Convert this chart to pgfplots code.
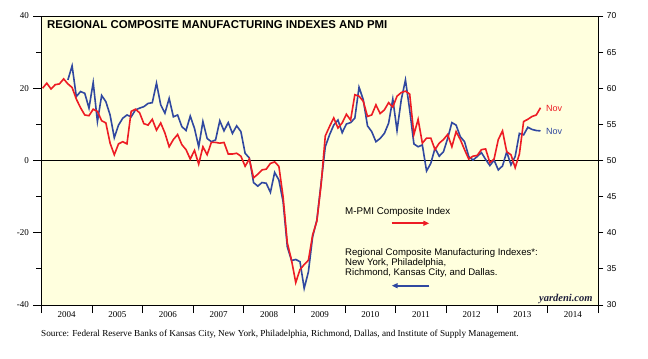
\documentclass[border=0pt]{standalone}
\usepackage{fontspec}
\setmainfont{Liberation Serif}
\newfontfamily\arial{Liberation Sans}
\usepackage{pgfplots}
\pgfplotsset{compat=1.18}
\usepackage{pgfplotstable}
\usetikzlibrary{arrows.meta}

\definecolor{pmired}{RGB}{237,28,36}
\definecolor{regblue}{RGB}{48,72,160}
\definecolor{bgyellow}{RGB}{255,255,222}

% M-PMI composite (right axis), months since Jan 2004
\pgfplotstableread{
m v
0 60.0
1 60.7
2 59.9
3 60.5
4 60.6
5 61.3
6 60.6
7 60.1
8 58.5
9 57.3
10 56.3
11 56.2
12 57.1
13 56.8
14 55.5
15 55.2
16 52.4
17 50.8
18 52.3
19 52.6
20 52.3
21 56.8
22 57.1
23 56.6
24 55.1
25 54.9
26 55.7
27 54.2
28 55.2
29 53.8
30 51.9
31 52.9
32 53.6
33 52.2
34 51.5
35 50.2
36 51.4
37 49.5
38 51.9
39 50.8
40 52.5
41 52.5
42 52.4
43 52.5
44 50.9
45 50.9
46 51.0
47 50.6
48 49.2
49 50.2
50 47.6
51 48.1
52 48.7
53 48.8
54 49.6
55 49.8
56 49.2
57 45.0
58 38.6
59 36.2
60 33.1
61 34.9
62 35.6
63 36.2
64 39.7
65 41.6
66 46.6
67 53.4
68 54.7
69 55.9
70 54.5
71 55.2
72 56.4
73 55.6
74 59.1
75 58.9
76 58.2
77 56.1
78 56.3
79 57.7
80 56.5
81 57.0
82 58.0
83 57.4
84 58.9
85 59.4
86 59.6
87 59.2
88 53.6
89 55.7
90 52.4
91 53.1
92 53.1
93 51.5
94 52.4
95 52.9
96 53.6
97 51.9
98 54.0
99 52.9
100 51.5
101 50.2
102 50.6
103 50.7
104 51.5
105 51.6
106 49.7
107 50.2
108 52.9
109 54.1
110 51.2
111 50.8
112 49.0
113 50.9
114 55.4
115 55.7
116 56.1
117 56.3
118 57.3
}\pmidata

% Regional composite manufacturing indexes (left axis)
\pgfplotstableread{
m v
6 22.3
7 26.2
8 17.7
9 19.1
10 18.6
11 14.5
12 21.6
13 10.8
14 18.0
15 16.3
16 12.6
17 6.3
18 9.8
19 11.7
20 12.6
21 12.1
22 14.0
23 14.5
24 14.9
25 15.8
26 16.0
27 21.4
28 15.4
29 13.1
30 17.2
31 12.1
32 12.6
33 9.4
34 8.3
35 12.3
36 8.9
37 3.8
38 10.8
39 6.1
40 5.2
41 5.7
42 11.0
43 8.2
44 10.5
45 7.5
46 9.6
47 8.0
48 2.0
49 0.7
50 -6.1
51 -7.1
52 -6.1
53 -6.3
54 -8.8
55 -3.3
56 -5.4
57 -11.4
58 -23.9
59 -27.7
60 -27.4
61 -28.0
62 -35.4
63 -30.8
64 -21.1
65 -16.5
66 -6.3
67 3.8
68 7.1
69 9.8
70 11.2
71 7.7
72 10.1
73 10.5
74 11.7
75 20.3
76 16.8
77 9.6
78 8.0
79 5.2
80 6.1
81 7.5
82 10.3
83 17.0
84 8.3
85 16.8
86 22.3
87 14.0
88 4.6
89 3.8
90 4.3
91 -2.9
92 -0.8
93 3.4
94 1.2
95 2.4
96 6.1
97 10.5
98 9.8
99 6.6
100 5.2
101 1.1
102 0.1
103 1.1
104 2.2
105 0.3
106 -1.4
107 0.1
108 -2.6
109 -1.5
110 2.4
111 -1.2
112 1.1
113 7.5
114 7.1
115 9.2
116 8.6
117 8.3
118 8.2
}\regdata

\begin{document}
\begin{tikzpicture}
\useasboundingbox (-41.3bp,-54bp) rectangle (606.7bp,305bp);
\begin{axis}[
  at={(0,0)}, anchor=south west,
  scale only axis, width=557bp, height=289bp,
  xmin=-0.3, xmax=131.7, ymin=-40, ymax=40,
  axis background/.style={fill=bgyellow},
  axis line style={line width=0.8bp},
  tick style={black, line width=0.8bp},
  tick align=outside,
  xtick pos=bottom, ytick pos=left,
  xtick={-0.3,11.7,23.7,35.7,47.7,59.7,71.7,83.7,95.7,107.7,119.7,131.7},
  xticklabels={},
  extra x ticks={5.7,17.7,29.7,41.7,53.7,65.7,77.7,89.7,101.7,113.7,125.7},
  extra x tick labels={2004,2005,2006,2007,2008,2009,2010,2011,2012,2013,2014},
  extra x tick style={major tick length=0pt, tick label style={yshift=-3bp}},
  ytick={-40,-20,0,20,40},
  minor ytick={-30,-10,10,30},
  major tick length=8bp, minor tick length=5bp,
  /pgf/number format/assume math mode=true,
  tick label style={font=\fontsize{9bp}{10bp}\selectfont},
  yticklabel style={xshift=-1bp},
]
\draw[black, line width=0.9bp] (axis cs:-0.3,0) -- (axis cs:131.7,0);
\addplot[regblue, line width=1.6bp, no marks] table[x=m, y=v] {\regdata};
\node[anchor=west, inner sep=0, text=regblue, font=\arial\fontsize{9bp}{10bp}\selectfont] at (axis cs:119.3,8.0) {Nov};
\end{axis}
\begin{axis}[
  at={(0,0)}, anchor=south west,
  scale only axis, width=557bp, height=289bp,
  xmin=-0.3, xmax=131.7, ymin=30, ymax=70,
  axis x line=none, axis y line*=right,
  axis line style={line width=0.8bp},
  tick style={black, line width=0.8bp},
  tick align=outside,
  ytick={30,35,40,45,50,55,60,65,70},
  major tick length=5bp,
  /pgf/number format/assume math mode=true,
  yticklabel style={font=\arial\fontsize{8.5bp}{9bp}\selectfont, xshift=0bp},
]
\addplot[pmired, line width=1.6bp, no marks] table[x=m, y=v] {\pmidata};
\node[anchor=west, inner sep=0, text=pmired, font=\arial\fontsize{9bp}{10bp}\selectfont] at (axis cs:119.3,57.2) {Nov};
\end{axis}
\node[anchor=base west, inner sep=0, font=\arial\bfseries\fontsize{11.4bp}{13bp}\selectfont] at (5.7bp,276.2bp) {REGIONAL COMPOSITE MANUFACTURING INDEXES AND PMI};
\node[anchor=base west, inner sep=0, font=\arial\fontsize{9.8bp}{12bp}\selectfont] at (303.7bp,90.7bp) {M-PMI Composite Index};
\draw[pmired, line width=2bp, -{Triangle[length=6bp,width=5bp]}] (350.4bp,81.7bp) -- (388bp,81.7bp);
\node[anchor=base west, inner sep=0, font=\arial\fontsize{9.6bp}{12bp}\selectfont] at (303.7bp,49.7bp) {Regional Composite Manufacturing Indexes*:};
\node[anchor=base west, inner sep=0, font=\arial\fontsize{9.6bp}{12bp}\selectfont] at (303.7bp,39.7bp) {New York, Philadelphia,};
\node[anchor=base west, inner sep=0, font=\arial\fontsize{9.6bp}{12bp}\selectfont] at (303.7bp,29.7bp) {Richmond, Kansas City, and Dallas.};
\draw[regblue, line width=2bp, -{Triangle[length=6bp,width=5bp]}] (388bp,19.3bp) -- (350.4bp,19.3bp);
\node[anchor=base east, inner sep=0, text={rgb,255:red,30;green,30;blue,60}, font=\bfseries\itshape\fontsize{10.5bp}{12bp}\selectfont] at (551.4bp,3.3bp) {yardeni.com};
\node[anchor=base west, inner sep=0, font=\fontsize{9.2bp}{10bp}\selectfont] at (-0.3bp,-31.5bp) {Source: Federal Reserve Banks of Kansas City, New York, Philadelphia, Richmond, Dallas, and Institute of Supply Management.};
\end{tikzpicture}
\end{document}
